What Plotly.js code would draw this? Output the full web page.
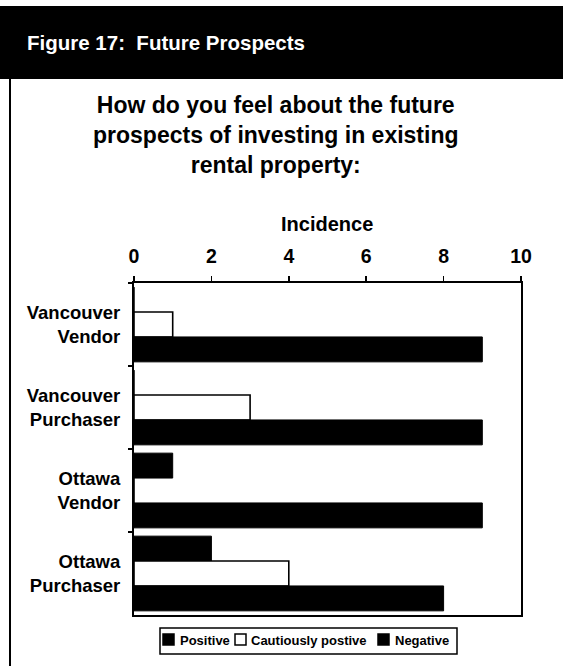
<!DOCTYPE html>
<html>
<head>
<meta charset="utf-8">
<script src="https://cdn.plot.ly/plotly-3.0.1.min.js"></script>
<style>html,body{margin:0;padding:0;background:#fff;}#chart{width:563px;height:666px;}</style>
</head>
<body>
<div id="chart"></div>
<script>
// ---- data ----
const categories = ["Vancouver<br>Vendor", "Vancouver<br>Purchaser", "Ottawa<br>Vendor", "Ottawa<br>Purchaser"];
const seriesNames = ["Positive", "Cautiously postive", "Negative"];
const positive = [0, 0, 1, 2];
const cautiouslyPositive = [1, 3, 0, 4];
const negative = [9, 9, 9, 8];
const xTicks = [0, 2, 4, 6, 8, 10];

// ---- layout geometry (pixels) ----
const W = 563, H = 666;
const L = 134, R = 521, T = 283, B = 615;
const px = v => (v - L) / (R - L);
const py = v => (B - v) / (B - T);
const FONT = "Liberation Sans, Arial, sans-serif";

const fills = ["#000", "#fff", "#000"];
const traces = [positive, cautiouslyPositive, negative].map((vals, i) => ({
  name: seriesNames[i], x: vals, y: categories, type: "bar", orientation: "h",
  marker: {color: fills[i], line: {color: "#000", width: i === 1 ? 1.6 : 1}},
  showlegend: false
}));

// custom legend (box + swatches + labels), matching the compact source legend
const legendBox = {x0: 160, x1: 457, y0: 628, y1: 654};
const swatchX = [163, 235, 378];
const labelX = [178, 249, 393];
const legendShapes = [
  {type: "rect", xref: "paper", yref: "paper", x0: px(legendBox.x0), x1: px(legendBox.x1),
   y0: py(legendBox.y1), y1: py(legendBox.y0), fillcolor: "#fff", line: {color: "#000", width: 1.5}}
].concat(seriesNames.map((n, i) => ({
  type: "rect", xref: "paper", yref: "paper", x0: px(swatchX[i]), x1: px(swatchX[i] + 11),
  y0: py(645), y1: py(634), fillcolor: fills[i], line: {color: "#000", width: 1.5}
})));
const legendLabels = seriesNames.map((n, i) => ({
  text: n, xref: "paper", yref: "paper", x: px(labelX[i]), y: py(640.5),
  xanchor: "left", yanchor: "middle", showarrow: false,
  font: {size: 13, weight: "bold", family: FONT}
}));

const layout = {
  width: W, height: H,
  margin: {l: L, r: W - R, t: T, b: H - B, pad: 0},
  paper_bgcolor: "#fff", plot_bgcolor: "#fff",
  font: {family: FONT, color: "#000"},
  barmode: "group", bargap: 0.1, bargroupgap: 0,
  showlegend: false,
  xaxis: {
    side: "top", range: [0, 10], tickvals: xTicks, ticktext: xTicks.map(String),
    ticks: "outside", ticklen: 5, tickwidth: 1.5, tickcolor: "#000",
    showline: true, linecolor: "#000", linewidth: 2, mirror: true,
    showgrid: false, zeroline: false, fixedrange: true,
    tickfont: {size: 19.5, weight: "bold", family: FONT},
    ticklabelstandoff: 5
  },
  yaxis: {
    autorange: "reversed", type: "category",
    ticks: "outside", ticklen: 4, tickwidth: 1.5, tickcolor: "#000", tickson: "boundaries",
    showline: true, linecolor: "#000", linewidth: 2, mirror: true,
    showgrid: false, zeroline: false, fixedrange: true,
    tickfont: {size: 18.5, weight: "bold", family: FONT},
    ticklabelstandoff: 8
  },
  shapes: [
    {type: "rect", xref: "paper", yref: "paper", x0: px(0), x1: px(W), y0: py(79), y1: py(6),
     fillcolor: "#000", line: {width: 0}, layer: "below"},
    {type: "line", xref: "paper", yref: "paper", x0: px(10), x1: px(10), y0: py(79), y1: py(H),
     line: {color: "#000", width: 2}}
  ].concat(legendShapes),
  annotations: [
    {text: "Figure 17:  Future Prospects", xref: "paper", yref: "paper", x: px(25), y: py(43),
     xanchor: "left", yanchor: "middle", showarrow: false,
     font: {size: 20.5, color: "#fff", weight: "bold", family: FONT}},
    {text: "How do you feel about the future<br>prospects of investing in existing<br>rental property:",
     xref: "paper", yref: "paper", x: px(276), y: py(135), xanchor: "center", yanchor: "middle",
     align: "center", showarrow: false,
     font: {size: 23, weight: "bold", family: FONT}},
    {text: "Incidence", xref: "paper", yref: "paper", x: px(327), y: py(224),
     xanchor: "center", yanchor: "middle", showarrow: false,
     font: {size: 20, weight: "bold", family: FONT}}
  ].concat(legendLabels)
};

Plotly.newPlot("chart", traces, layout, {displayModeBar: false, staticPlot: true});
</script>
</body>
</html>
